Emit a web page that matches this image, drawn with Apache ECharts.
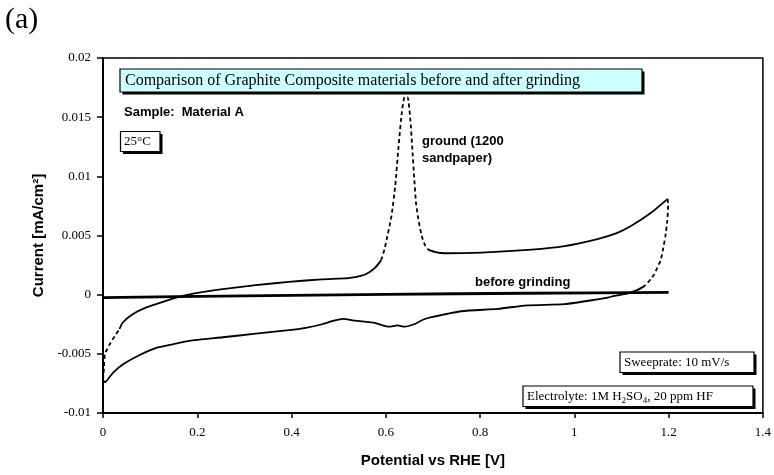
<!DOCTYPE html>
<html>
<head>
<meta charset="utf-8">
<script src="https://cdn.jsdelivr.net/npm/echarts@6/dist/echarts.min.js"></script>
<style>
  html, body { margin: 0; padding: 0; background: #fff; }
  #chart { width: 774px; height: 475px; }
</style>
</head>
<body>
<div id="chart"></div>
<script>
// Cyclic voltammetry of Material A, [potential V, current mA/cm2]
// Ground sample, anodic sweep: steep start (dashed), plateau (solid)
var groundForwardStart = [
  [0.000, -0.0072], [0.002, -0.0062], [0.004, -0.0050], [0.009, -0.0046],
  [0.014, -0.0042], [0.025, -0.0035], [0.035, -0.0029]
];
var groundForwardLow = [
  [0.035, -0.0029], [0.042, -0.00235], [0.063, -0.00165], [0.092, -0.00108],
  [0.127, -0.00061], [0.169, -0.0001], [0.204, 0.00018], [0.254, 0.00046],
  [0.324, 0.0008], [0.394, 0.00108], [0.465, 0.0013], [0.520, 0.0014],
  [0.549, 0.0016], [0.565, 0.0019], [0.578, 0.0023], [0.590, 0.0029]
];
// Oxidation peak around 0.64 V (dashed)
var groundPeak = [
  [0.590, 0.0029], [0.597, 0.0038], [0.602, 0.0047], [0.608, 0.0058],
  [0.613, 0.0069], [0.620, 0.0092], [0.627, 0.0125], [0.634, 0.0154],
  [0.640, 0.0167], [0.646, 0.0167], [0.652, 0.0148], [0.656, 0.0125],
  [0.660, 0.0100], [0.664, 0.0078], [0.669, 0.0064], [0.676, 0.0050],
  [0.683, 0.0042], [0.690, 0.0038]
];
var groundForwardHigh = [
  [0.690, 0.0038], [0.705, 0.0036], [0.726, 0.0035], [0.803, 0.00356],
  [0.909, 0.0038], [0.979, 0.0041], [1.049, 0.0047], [1.090, 0.0052],
  [1.120, 0.0058], [1.162, 0.0069], [1.198, 0.0081]
];
// Cathodic sweep: steep reversal (dashed), then back to 0 V (solid)
var groundReverseTop = [
  [1.198, 0.0081], [1.199, 0.0075], [1.197, 0.0062], [1.193, 0.0049],
  [1.188, 0.0038], [1.183, 0.0029], [1.169, 0.0017], [1.162, 0.0013],
  [1.148, 0.0007]
];
var groundReverse = [
  [1.148, 0.0007], [1.134, 0.0004], [1.120, 0.0002], [1.106, 0.00004],
  [1.085, -0.0001], [1.071, -0.00025], [1.049, -0.0004], [0.979, -0.0008],
  [0.900, -0.0009], [0.838, -0.0012], [0.760, -0.0014], [0.697, -0.0019],
  [0.680, -0.0021], [0.660, -0.0025], [0.640, -0.0027], [0.625, -0.0026],
  [0.606, -0.0027], [0.578, -0.0024], [0.535, -0.0022], [0.510, -0.00205],
  [0.490, -0.0022], [0.465, -0.0025], [0.430, -0.0028], [0.394, -0.0030],
  [0.324, -0.0033], [0.254, -0.0036], [0.183, -0.0039], [0.148, -0.0042],
  [0.113, -0.0045], [0.078, -0.0051], [0.042, -0.0059], [0.021, -0.0066],
  [0.004, -0.0074], [0.000, -0.0072]
];
// Unground sample
var beforeGrinding = [
  [0.0, -0.00025], [0.3, -0.0001], [0.6, 0.00003], [0.9, 0.00012], [1.2, 0.0002]
];

var xTicks = ['0', '0.2', '0.4', '0.6', '0.8', '1', '1.2', '1.4'];
var yTicks = ['-0.01', '-0.005', '0', '0.005', '0.01', '0.015', '0.02'];

var SERIF = '"Liberation Serif", "Times New Roman", serif';
var SANS = '"Liberation Sans", Arial, sans-serif';

function curve(data, dashed, width) {
  return {
    type: 'line',
    data: data,
    showSymbol: false,
    smooth: 0.2,
    animation: false,
    lineStyle: { color: '#000', width: width || 1.8, type: dashed ? [4, 3] : 'solid' }
  };
}

// framed text box with a solid drop shadow to the lower right
function box(x, y, w, h, fill) {
  return [
    {
      type: 'rect',
      shape: { x: x + 2.5, y: y + 2.5, width: w, height: h },
      style: { fill: '#000' }
    },
    {
      type: 'rect',
      shape: { x: x, y: y, width: w, height: h },
      style: { fill: fill || '#fff', stroke: '#000', lineWidth: 1.2 }
    }
  ];
}

function label(x, y, text, font, size, weight) {
  return {
    type: 'text',
    style: {
      text: text, x: x, y: y, fill: '#000',
      font: (weight || 'normal') + ' ' + size + 'px ' + font,
      verticalAlign: 'middle', align: 'left'
    }
  };
}

var graphics = [].concat(
  [label(5, 20, '(a)', SERIF, 30)],
  box(120, 69, 522, 23, '#ccffff'),
  [label(125, 81, 'Comparison of Graphite Composite materials before and after grinding', SERIF, 16)],
  [label(124, 112, 'Sample:  Material A', SANS, 13, 'bold')],
  box(120.5, 131.5, 39.5, 20),
  [label(124, 142, '25°C', SERIF, 13)],
  [label(422, 141, 'ground (1200', SANS, 13, 'bold')],
  [label(422, 158, 'sandpaper)', SANS, 13, 'bold')],
  [label(475, 282, 'before grinding', SANS, 13, 'bold')],
  box(620, 352, 134, 20.5),
  [label(624, 362.5, 'Sweeprate: 10 mV/s', SERIF, 13)],
  box(523, 386, 230, 20.5),
  [{
    type: 'text',
    style: {
      x: 527, y: 396.5, verticalAlign: 'middle', align: 'left', fill: '#000',
      text: '{n|Electrolyte: 1M H}{s|2}{n|SO}{s|4}{n|, 20 ppm HF}',
      rich: {
        n: { fontFamily: SERIF, fontSize: 13, lineHeight: 18, verticalAlign: 'middle' },
        s: { fontFamily: SERIF, fontSize: 9, lineHeight: 18, verticalAlign: 'bottom' }
      }
    }
  }]
);

var chart = echarts.init(document.getElementById('chart'), null, { renderer: 'canvas' });
chart.setOption({
  animation: false,
  backgroundColor: '#fff',
  grid: {
    left: 103, right: 8, top: 58, bottom: 62,
    show: true, borderColor: '#000', borderWidth: 1.5, backgroundColor: 'transparent'
  },
  xAxis: {
    type: 'value', min: 0, max: 1.4, interval: 0.2,
    name: 'Potential vs RHE [V]', nameLocation: 'middle', nameGap: 40,
    nameTextStyle: { fontFamily: SANS, fontWeight: 'bold', fontSize: 15, color: '#000' },
    axisLine: { onZero: false, lineStyle: { color: '#000', width: 2 } },
    axisTick: { show: true, inside: false, length: 5, lineStyle: { color: '#000', width: 1.5 } },
    axisLabel: {
      margin: 13, fontFamily: SERIF, fontSize: 13, color: '#000',
      formatter: function (v) { return xTicks[Math.round(v / 0.2)]; }
    },
    splitLine: { show: false }
  },
  yAxis: {
    type: 'value', min: -0.01, max: 0.02, interval: 0.005,
    name: 'Current [mA/cm²]', nameLocation: 'middle', nameGap: 53, nameRotate: 90,
    nameTextStyle: { fontFamily: SANS, fontWeight: 'bold', fontSize: 15, color: '#000' },
    axisLine: { onZero: false, lineStyle: { color: '#000', width: 2 } },
    axisTick: { show: true, inside: false, length: 6, lineStyle: { color: '#000', width: 1.5 } },
    axisLabel: {
      margin: 12, fontFamily: SERIF, fontSize: 13, color: '#000',
      formatter: function (v) { return yTicks[Math.round((v + 0.01) / 0.005)]; }
    },
    splitLine: { show: false }
  },
  series: [
    curve(beforeGrinding, false, 2.8),
    curve(groundForwardStart, true),
    curve(groundForwardLow, false),
    curve(groundPeak, true),
    curve(groundForwardHigh, false),
    curve(groundReverseTop, true),
    curve(groundReverse, false)
  ],
  graphic: graphics
});
</script>
</body>
</html>
